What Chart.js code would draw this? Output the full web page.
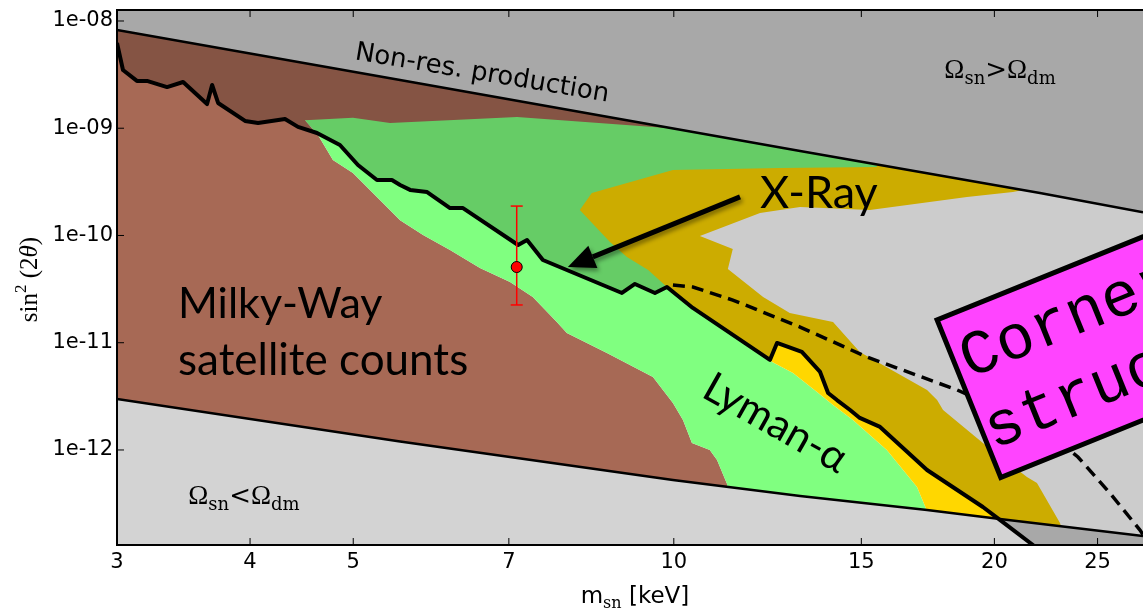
<!DOCTYPE html>
<html>
<head>
<meta charset="utf-8">
<title>Sterile neutrino dark matter: allowed region</title>
<script src="https://cdn.jsdelivr.net/npm/chart.js@4.4.1/dist/chart.umd.min.js"></script>
<style>
  html, body { margin: 0; padding: 0; background: #ffffff; }
  canvas { display: block; }
</style>
</head>
<body>
<canvas id="chart" width="1143" height="610"></canvas>
<script>
// Axes: sterile-neutrino mass m_sn [keV] against mixing sin^2(2θ), both logarithmic
const xTicks = [3, 4, 5, 7, 10, 15, 20, 25];
const yTicks = [1e-12, 1e-11, 1e-10, 1e-9, 1e-8];
const xLimits = [3, 27.58];
const yLimits = [1.30e-13, 1.266e-8];

// Non-resonant production line (upper edge of the band)
const nonResMass = [3.0, 5.533, 13.14, 22.07, 27.58];
const nonResMix  = [8.24e-9, 2.82e-9, 6.14e-10, 2.49e-10, 1.65e-10];

// Ω_sn = Ω_dm line (lower edge of the band)
const relicMass = [3.0, 5.533, 9.981, 13.14, 17.29, 20.24, 27.58];
const relicMix  = [2.99e-12, 1.20e-12, 5.25e-13, 3.72e-13, 2.76e-13, 2.27e-13, 1.58e-13];

// Milky-Way satellite counts: outer corner, edge toward Lyman-α, tail below the band
const mwCornerMass = [3.0, 3.0, 10.58, 10.58, 7.817];
const mwCornerMix  = [1.90e-12, 1.1e-8, 1.1e-8, 2.14e-10, 2.14e-10];
const mwEdgeMass = [4.505, 4.633, 4.785, 4.997, 5.297, 5.533, 5.815, 6.164, 6.576, 7.018, 7.372,
                    7.765, 7.935, 8.654, 9.559, 9.981, 10.20, 10.40, 10.81, 10.98, 11.22];
const mwEdgeMix  = [1.19e-9, 8.65e-10, 5.06e-10, 3.83e-10, 2.14e-10, 1.39e-10, 1.01e-10, 7.33e-11,
                    4.98e-11, 3.69e-11, 2.67e-11, 1.56e-11, 1.23e-11, 8.02e-12, 4.79e-12, 2.74e-12,
                    1.90e-12, 1.16e-12, 1.0e-12, 8.07e-13, 4.82e-13];
const mwTailMass = [11.29];
const mwTailMix  = [2.23e-13];

// Lyman-α forest bound
const lyaTopMass = [4.997, 5.414, 7.125, 9.853, 15.62, 15.62, 10.58, 8.524, 9.460, 10.58];
const lyaTopMix  = [1.25e-9, 1.12e-9, 1.27e-9, 1.005e-9, 6.27e-10, 3.29e-10, 3.29e-10, 1.55e-10, 5.66e-11, 2.50e-11];
const lyaEdgeMass = [12.37, 12.94, 13.63, 14.11, 14.73, 15.85, 16.92, 17.29];
const lyaEdgeMix  = [6.61e-12, 5.22e-12, 3.47e-12, 2.63e-12, 1.90e-12, 1.0e-12, 4.52e-13, 2.70e-13];
const lyaBaseMass = [17.59, 11.22];
const lyaBaseMix  = [1.79e-13, 3.42e-13];

// X-ray region (outer contour, then the part running under the solid curve)
const xrayOuterMass = [8.161, 8.375, 9.981, 12.58, 15.51, 15.62, 21.60, 21.28, 20.82, 18.85, 15.28,
                       13.14, 12.05, 10.58, 11.36, 11.24, 12.13, 12.85, 14.11, 14.95, 17.29, 17.67,
                       17.90, 19.51, 21.46, 21.93, 23.05, 23.29, 17.29];
const xrayOuterMix  = [1.73e-10, 2.49e-10, 4.08e-10, 4.26e-10, 4.35e-10, 7.77e-10, 4.08e-10, 2.66e-10,
                       2.54e-10, 2.29e-10, 1.73e-10, 1.84e-10, 1.62e-10, 9.89e-11, 7.48e-11, 4.87e-11,
                       2.67e-11, 1.89e-11, 1.56e-11, 8.20e-12, 3.63e-12, 2.92e-12, 2.36e-12, 1.16e-12,
                       5.60e-13, 4.92e-13, 2.09e-13, 1.45e-13, 1.45e-13];
const xrayInnerMass = [12.31, 10.42, 9.853, 9.460, 9.036, 8.710];
const xrayInnerMix  = [6.91e-12, 2.11e-11, 3.31e-11, 4.77e-11, 6.30e-11, 8.70e-11];

// Combined exclusion curve (solid)
const solidMass = [3.000, 3.039, 3.132, 3.201, 3.343, 3.461, 3.645, 3.685, 3.733, 3.957, 4.070, 4.314,
                   4.437, 4.623, 4.858, 5.051, 5.263, 5.436, 5.533, 5.654, 5.866, 6.164, 6.339, 7.141,
                   7.281, 7.534, 8.939, 9.194, 9.600, 9.853, 10.42, 12.31, 12.50, 13.19, 13.72, 13.96,
                   14.23, 14.64, 14.95, 15.62, 17.29, 19.51, 20.24, 21.74, 22.31];
const solidMix  = [6.23e-9, 3.49e-9, 2.76e-9, 2.76e-9, 2.42e-9, 2.70e-9, 1.68e-9, 2.53e-9, 1.72e-9,
                   1.17e-9, 1.12e-9, 1.22e-9, 1.03e-9, 9.03e-10, 6.98e-10, 4.54e-10, 3.29e-10, 3.29e-10,
                   2.96e-10, 2.66e-10, 2.54e-10, 1.80e-10, 1.80e-10, 8.15e-11, 9.08e-11, 5.91e-11,
                   2.91e-11, 3.53e-11, 2.91e-11, 3.31e-11, 2.11e-11, 6.91e-12, 9.95e-12, 8.20e-12,
                   5.34e-12, 3.40e-12, 2.92e-12, 2.36e-12, 1.99e-12, 1.64e-12, 6.51e-13, 2.94e-13,
                   2.23e-13, 1.30e-13, 9.43e-14];

// Dashed curve
const dashMass = [9.981, 10.42, 11.36, 13.14, 15.18, 18.45, 21.14, 22.80, 23.96, 25.67, 27.40, 28.00];
const dashMix  = [3.46e-11, 3.31e-11, 2.50e-11, 1.40e-11, 7.36e-12, 3.63e-12, 1.99e-12, 1.29e-12,
                  8.60e-13, 3.97e-13, 1.79e-13, 1.30e-13];

// 3.5 keV line signal with its error bar
const signalMass = [7.12];
const signalMix  = [5.08e-11];
const signalLow  = [2.25e-11];
const signalHigh = [1.88e-10];

const pts = (xs, ys) => xs.map((v, i) => ({ x: v, y: ys[i] }));
const clear = 'rgba(0,0,0,0)';
const shape = (data, color, order) => ({
  data, order, fill: 'shape', backgroundColor: color,
  borderColor: clear, borderWidth: 0, pointRadius: 0
});

const mwShape  = pts(mwCornerMass, mwCornerMix).concat(pts(mwEdgeMass, mwEdgeMix), pts(mwTailMass, mwTailMix));
const lyaShape = pts(lyaTopMass, lyaTopMix).concat(pts(lyaEdgeMass, lyaEdgeMix), pts(lyaBaseMass, lyaBaseMix),
                                                   pts(mwEdgeMass, mwEdgeMix).reverse());
const xrayShape = pts(xrayOuterMass, xrayOuterMix).concat(pts(lyaEdgeMass, lyaEdgeMix).reverse(),
                                                          pts(xrayInnerMass, xrayInnerMix));
// everything above the solid curve is shaded; extend past the lower-right corner
const shadeLine = pts(solidMass, solidMix).concat([{ x: xLimits[1] * 1.1, y: yLimits[0] * 0.5 }]);

const datasets = [
  shape(mwShape, '#a76955', 20),
  shape(lyaShape, '#80ff80', 19),
  shape(xrayShape, '#ffd700', 18),
  { data: pts(nonResMass, nonResMix), order: 17, fill: 'end', backgroundColor: '#d3d3d3',
    borderColor: '#000', borderWidth: 2.5, pointRadius: 0 },
  { data: pts(relicMass, relicMix), order: 16, fill: 'start', backgroundColor: '#d3d3d3',
    borderColor: '#000', borderWidth: 2.5, pointRadius: 0 },
  { data: shadeLine, order: 15, fill: 'end', backgroundColor: 'rgba(0,0,0,0.2)',
    borderColor: clear, borderWidth: 0, pointRadius: 0 },
  { data: pts(dashMass, dashMix), order: 5, fill: false, borderColor: '#000', borderWidth: 3.5,
    borderDash: [12, 7], pointRadius: 0 },
  { data: pts(solidMass, solidMix), order: 4, fill: false, borderColor: '#000', borderWidth: 4,
    borderJoinStyle: 'round', pointRadius: 0 },
  { data: [{ x: signalMass[0], y: signalHigh[0] }, { x: signalMass[0], y: signalLow[0] }], order: 2,
    fill: false, borderColor: '#ff0000', borderWidth: 1.5, pointStyle: 'line', pointRadius: 6,
    pointBorderColor: '#ff0000', pointBorderWidth: 1.5 },
  { data: pts(signalMass, signalMix), order: 1, showLine: false, pointRadius: 5.5,
    pointBackgroundColor: '#ff0000', pointBorderColor: '#000', pointBorderWidth: 1 }
];

// draws a run of text pieces [text, font, dy] one after another
function run(ctx, parts, x, y, align) {
  let w = 0;
  parts.forEach(p => { ctx.font = p[1]; w += ctx.measureText(p[0]).width; });
  let cx = align === 'center' ? x - w / 2 : x;
  parts.forEach(p => { ctx.font = p[1]; ctx.fillText(p[0], cx, y + p[2]); cx += ctx.measureText(p[0]).width; });
}

const SERIF = '"Liberation Serif", "DejaVu Serif", serif';
const GILL = 'Lato, "DejaVu Sans", sans-serif';

const decorations = {
  id: 'decorations',
  afterDatasetsDraw(chart) {
    const { ctx, chartArea: a, scales: { x, y } } = chart;
    const X = v => x.getPixelForValue(v);
    const Y = v => y.getPixelForValue(v);
    ctx.save();
    ctx.fillStyle = '#000';
    ctx.textAlign = 'left';
    ctx.textBaseline = 'alphabetic';

    // region labels
    ctx.save();
    ctx.translate(X(5.01), Y(4.40e-9));
    ctx.rotate(9.5 * Math.PI / 180);
    ctx.font = '26px "DejaVu Sans"';
    ctx.fillText('Non-res. production', 0, 0);
    ctx.restore();

    const omegaBig = '27px ' + SERIF, omegaSub = '18px "DejaVu Serif"', rel = '26px "DejaVu Serif"';
    run(ctx, [['Ω', omegaBig, 0], ['sn', omegaSub, 6], ['>', rel, 0], ['Ω', omegaBig, 0], ['dm', omegaSub, 6]],
        X(17.95), Y(2.94e-9));
    run(ctx, [['Ω', omegaBig, 0], ['sn', omegaSub, 6], ['<', rel, 0], ['Ω', omegaBig, 0], ['dm', omegaSub, 6]],
        X(3.50), Y(3.14e-13));

    ctx.font = '43px ' + GILL;
    ctx.fillText('Milky-Way', X(3.423), Y(1.70e-11));
    ctx.font = '44px ' + GILL;
    ctx.fillText('satellite counts', X(3.423), Y(5.00e-12));

    ctx.font = '45px ' + GILL;
    ctx.fillText('X-Ray', X(12.05), Y(1.80e-10));

    ctx.save();
    ctx.translate(X(10.58), Y(3.19e-12));
    ctx.rotate(29.5 * Math.PI / 180);
    ctx.font = '42px ' + GILL;
    ctx.fillText('Lyman-α', 0, 0);
    ctx.restore();

    // arrow pointing at the signal
    ctx.save();
    ctx.shadowColor = 'rgba(0,0,0,0.4)';
    ctx.shadowBlur = 4;
    ctx.shadowOffsetX = 2;
    ctx.shadowOffsetY = 3;
    const x0 = X(11.54), y0 = Y(2.29e-10), x1 = X(7.952), y1 = Y(5.08e-11);
    const ang = Math.atan2(y1 - y0, x1 - x0), hl = 27, hw = 24;
    const bx = x1 - hl * Math.cos(ang), by = y1 - hl * Math.sin(ang);
    ctx.strokeStyle = '#000';
    ctx.lineWidth = 5;
    ctx.beginPath(); ctx.moveTo(x0, y0); ctx.lineTo(bx, by); ctx.stroke();
    ctx.beginPath();
    ctx.moveTo(x1, y1);
    ctx.lineTo(bx + hw / 2 * Math.sin(ang), by - hw / 2 * Math.cos(ang));
    ctx.lineTo(bx - hw / 2 * Math.sin(ang), by + hw / 2 * Math.cos(ang));
    ctx.closePath(); ctx.fill();
    ctx.restore();

    // tilted note box
    ctx.save();
    ctx.translate(X(17.67), Y(1.63e-11));
    ctx.rotate(-22 * Math.PI / 180);
    ctx.fillStyle = '#ff44ff';
    ctx.fillRect(0, 0, 440, 170);
    ctx.lineWidth = 5;
    ctx.strokeStyle = '#000';
    ctx.strokeRect(0, 0, 440, 170);
    ctx.fillStyle = '#000';
    ctx.font = '63px "Liberation Mono", "DejaVu Sans Mono", monospace';
    ctx.fillText('Corner', 8, 66);
    ctx.fillText('structure', 4, 141);
    ctx.restore();

    // axis titles
    run(ctx, [['m', '23px "DejaVu Sans"', 0], ['sn', '16px "DejaVu Serif"', 5], [' [keV]', '23px "DejaVu Sans"', 0]],
        (a.left + a.right) / 2 + 5, 603, 'center');
    ctx.save();
    ctx.translate(37, (a.top + a.bottom) / 2 + 2);
    ctx.rotate(-Math.PI / 2);
    run(ctx, [['sin', '25px ' + SERIF, 0], ['2', '17px ' + SERIF, -11], [' (2', '25px ' + SERIF, 0],
              ['θ', 'italic 25px ' + SERIF, 0], [')', '25px ' + SERIF, 0]], 0, 0, 'center');
    ctx.restore();

    // inward ticks and frame
    ctx.strokeStyle = '#000';
    ctx.lineWidth = 1;
    ctx.beginPath();
    y.ticks.forEach(t => { const p = Y(t.value); ctx.moveTo(a.left, p); ctx.lineTo(a.left + 7, p); });
    x.ticks.forEach(t => {
      const p = X(t.value);
      ctx.moveTo(p, a.bottom); ctx.lineTo(p, a.bottom - 7);
      ctx.moveTo(p, a.top); ctx.lineTo(p, a.top + 7);
    });
    ctx.stroke();
    ctx.lineWidth = 2;
    ctx.beginPath();
    ctx.moveTo(a.right + 2, a.top); ctx.lineTo(a.left, a.top);
    ctx.lineTo(a.left, a.bottom); ctx.lineTo(a.right + 2, a.bottom);
    ctx.stroke();
    ctx.restore();
  }
};

Chart.defaults.font.family = '"DejaVu Sans"';
Chart.defaults.font.size = 21;
Chart.defaults.color = '#000';

new Chart(document.getElementById('chart'), {
  type: 'line',
  data: { datasets },
  plugins: [decorations],
  options: {
    responsive: false,
    animation: false,
    events: [],
    layout: { autoPadding: false, padding: { top: 10, right: 0, left: 0, bottom: 0 } },
    elements: { point: { radius: 0 }, line: { tension: 0 } },
    plugins: { legend: { display: false }, tooltip: { enabled: false } },
    scales: {
      x: {
        type: 'logarithmic', min: xLimits[0], max: xLimits[1],
        grid: { display: false, drawTicks: false }, border: { display: false },
        ticks: { autoSkip: false, maxRotation: 0, padding: 5, callback: v => String(v) },
        afterBuildTicks: s => { s.ticks = xTicks.map(v => ({ value: v })); },
        afterFit: s => { s.height = 65; s.paddingLeft = 0; s.paddingRight = 0; }
      },
      y: {
        type: 'logarithmic', min: yLimits[0], max: yLimits[1],
        grid: { display: false, drawTicks: false }, border: { display: false },
        ticks: {
          padding: 4,
          callback: v => '1e-' + String(-Math.round(Math.log10(v))).padStart(2, '0')
        },
        afterBuildTicks: s => { s.ticks = yTicks.map(v => ({ value: v })); },
        afterFit: s => { s.width = 117; s.paddingTop = 0; s.paddingBottom = 0; }
      }
    }
  }
});
</script>
</body>
</html>
